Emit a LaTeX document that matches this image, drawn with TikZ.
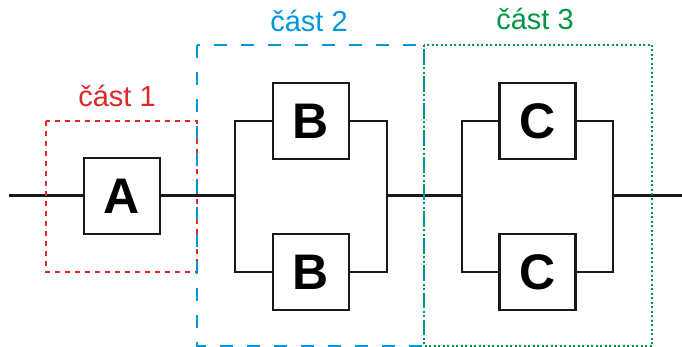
\documentclass[tikz,border=0pt]{standalone}
\usepackage{fontspec}
\setmainfont{Liberation Sans}
\begin{document}
\begin{tikzpicture}[x=1pt,y=-1pt,
  blk/.style={draw=black!90, line width=2.8pt, fill=white, minimum width=76pt, minimum height=76pt, inner sep=0pt, font=\fontsize{50}{50}\selectfont\bfseries},
  wire/.style={draw=black!90, line width=3pt},
  branch/.style={draw=black!90, line width=2.7pt},
  lbl/.style={font=\fontsize{29}{29}\selectfont},
  part1/.style={draw=cred, line width=2.7pt, dash pattern=on 5pt off 5pt},
  part2/.style={draw=cblue, line width=2.7pt, dash pattern=on 13pt off 14pt},
  part3/.style={draw=cgreen, line width=2.7pt, dash pattern=on 2pt off 2.5pt}
]
\definecolor{cred}{RGB}{222,40,40}
\definecolor{cblue}{RGB}{0,150,220}
\definecolor{cgreen}{RGB}{0,150,70}
\useasboundingbox (0,0) rectangle (682,347);

% part frames
\coordinate (p1a) at (46,121); \coordinate (p1b) at (197,272);
\coordinate (p2a) at (197,45); \coordinate (p2b) at (424,346);
\coordinate (p3a) at (424,45); \coordinate (p3b) at (652,346);

% blocks and junctions
\coordinate (in) at (9,196);
\coordinate (out) at (682,196);
\node[blk] (A) at (122,196) {A};
\node[blk] (B1) at (311,121) {B};
\node[blk] (B2) at (311,272) {B};
\node[blk] (C1) at (537.5,121) {C};
\node[blk] (C2) at (537.5,272) {C};
\coordinate (bl) at (235,196); \coordinate (br) at (387,196);
\coordinate (cl) at (462,196); \coordinate (cr) at (613,196);

\draw[wire] (in) -- (A.west);
\draw[wire] (A.east) -- (bl);
\draw[branch] (B1.west) -| (bl) |- (B2.west);
\draw[branch] (B1.east) -| (br) |- (B2.east);
\draw[wire] (br) -- (cl);
\draw[branch] (C1.west) -| (cl) |- (C2.west);
\draw[branch] (C1.east) -| (cr) |- (C2.east);
\draw[wire] (cr) -- (out);

\draw[part1] (p1a) rectangle (p1b);
\draw[part2] (p2a) rectangle (p2b);
\draw[part3] (p3a) rectangle (p3b);

\node[lbl, text=cred] (l1) at (117,96) {část 1};
\node[lbl, text=cblue] (l2) at (309,21) {část 2};
\node[lbl, text=cgreen] (l3) at (535,19) {část 3};
\end{tikzpicture}
\end{document}
